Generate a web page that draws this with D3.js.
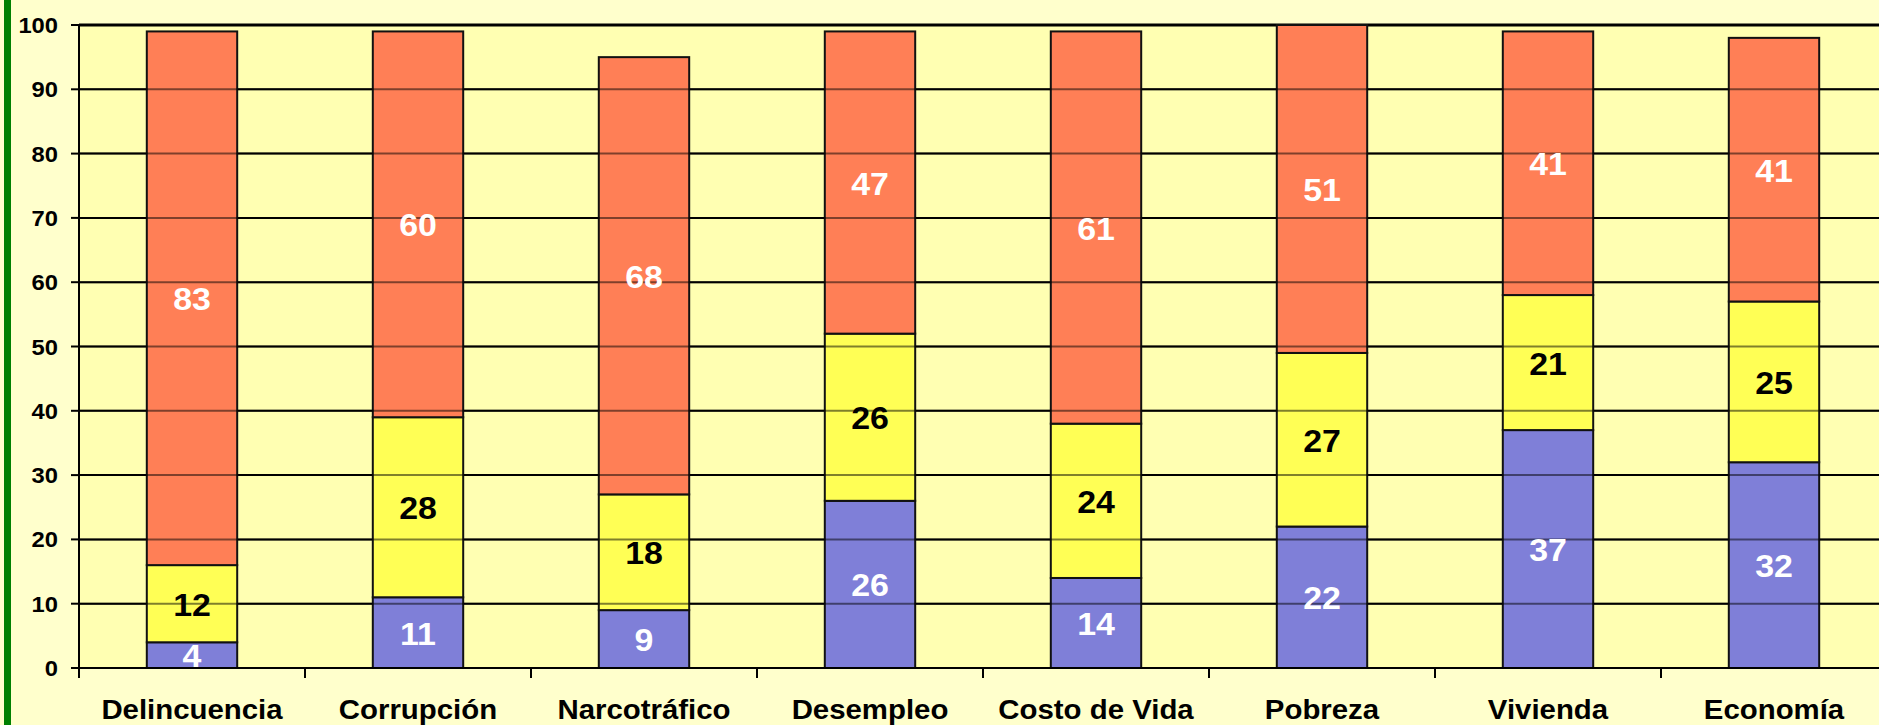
<!DOCTYPE html>
<html>
<head>
<meta charset="utf-8">
<script src="https://cdn.jsdelivr.net/npm/d3@7/dist/d3.min.js"></script>
<style>
  html, body { margin: 0; padding: 0; background: #FFFFCC; }
  svg { display: block; }
  text { font-family: "Liberation Sans", Arial, sans-serif; font-weight: bold; }
</style>
</head>
<body>
<svg id="chart" width="1879" height="725"></svg>
<script>
// Survey categories and the three stacked shares for each
const categories = ["Delincuencia", "Corrupción", "Narcotráfico", "Desempleo", "Costo de Vida", "Pobreza", "Vivienda", "Economía"];
const lowValues  = [4, 11, 9, 26, 14, 22, 37, 32];
const midValues  = [12, 28, 18, 26, 24, 27, 21, 25];
const highValues = [83, 60, 68, 47, 61, 51, 41, 41];
const yTicks = [0, 10, 20, 30, 40, 50, 60, 70, 80, 90, 100];

const seriesFill  = ["#7F7FD8", "#FFFF55", "#FF7F56"];
const labelColour = ["#FFFFFF", "#000000", "#FFFFFF"];

const W = 1879, H = 725;
const plotLeft = 79, plotTop = 25, plotBottom = 668;
const plotRight = plotLeft + 8 * 226;

const svg = d3.select("#chart");

// outer background and green rule on the left
svg.append("rect").attr("width", W).attr("height", H).attr("fill", "#FFFFCC");
svg.append("rect").attr("x", 4).attr("y", 0).attr("width", 7).attr("height", H).attr("fill", "#008000");

const x = d3.scaleBand().domain(categories).range([plotLeft, plotRight]).padding(0);
const y = d3.scaleLinear().domain([0, 100]).range([plotBottom, plotTop]);
const barW = x.bandwidth() * 0.4;

// plot area
svg.append("rect")
  .attr("x", plotLeft).attr("y", plotTop)
  .attr("width", plotRight - plotLeft).attr("height", plotBottom - plotTop)
  .attr("fill", "#FFFFB2");

svg.append("defs").append("clipPath").attr("id", "plotClip")
  .append("rect").attr("x", plotLeft).attr("y", plotTop - 2)
  .attr("width", plotRight - plotLeft).attr("height", plotBottom - plotTop + 2);

// horizontal grid lines behind the bars
const grid = svg.append("g");
grid.selectAll("line").data(yTicks.filter(d => d > 0)).join("line")
  .attr("x1", plotLeft).attr("x2", plotRight)
  .attr("y1", d => y(d)).attr("y2", d => y(d))
  .attr("stroke", "#000").attr("stroke-width", d => d === 100 ? 3 : 2);

// stacked data
const rows = categories.map((c, i) => ({ cat: c, low: lowValues[i], mid: midValues[i], high: highValues[i] }));
const stack = d3.stack().keys(["low", "mid", "high"])(rows);

const bars = svg.append("g");
stack.forEach((layer, k) => {
  bars.selectAll(null).data(layer).join("rect")
    .attr("x", d => x(d.data.cat) + (x.bandwidth() - barW) / 2)
    .attr("y", d => y(d[1]))
    .attr("width", barW)
    .attr("height", d => y(d[0]) - y(d[1]))
    .attr("fill", seriesFill[k])
    .attr("stroke", "#111")
    .attr("stroke-width", 2);
});

// grid lines showing through the bars
svg.append("g").selectAll("line").data(yTicks.filter(d => d > 0 && d < 100)).join("line")
  .attr("x1", plotLeft).attr("x2", plotRight)
  .attr("y1", d => y(d)).attr("y2", d => y(d))
  .attr("stroke", "#000").attr("stroke-opacity", 0.5).attr("stroke-width", 2);

// value labels in each segment
const labels = svg.append("g").attr("clip-path", "url(#plotClip)");
stack.forEach((layer, k) => {
  labels.selectAll(null).data(layer).join("text")
    .attr("transform", d => `translate(${x(d.data.cat) + x.bandwidth() / 2},${y((d[0] + d[1]) / 2) + 12}) scale(1.06,1)`)
    .attr("text-anchor", "middle")
    .attr("font-size", 32)
    .attr("fill", labelColour[k])
    .text(d => d[1] - d[0]);
});

// y axis
const yAxis = svg.append("g");
yAxis.append("line").attr("x1", plotLeft).attr("x2", plotLeft).attr("y1", plotTop).attr("y2", plotBottom)
  .attr("stroke", "#000").attr("stroke-width", 2);
yAxis.selectAll("line.tick").data(yTicks).join("line").attr("class", "tick")
  .attr("x1", plotLeft - 8).attr("x2", plotLeft)
  .attr("y1", d => y(d)).attr("y2", d => y(d))
  .attr("stroke", "#000").attr("stroke-width", 2);
yAxis.selectAll("text").data(yTicks).join("text")
  .attr("transform", d => `translate(58,${y(d) + 8}) scale(1.08,1)`)
  .attr("text-anchor", "end")
  .attr("font-size", 22)
  .attr("fill", "#000")
  .text(d => d);

// x axis
const xAxis = svg.append("g");
xAxis.append("line").attr("x1", plotLeft).attr("x2", plotRight).attr("y1", plotBottom).attr("y2", plotBottom)
  .attr("stroke", "#000").attr("stroke-width", 2);
xAxis.selectAll("line.tick").data(categories).join("line").attr("class", "tick")
  .attr("x1", d => x(d)).attr("x2", d => x(d))
  .attr("y1", plotBottom).attr("y2", plotBottom + 10)
  .attr("stroke", "#000").attr("stroke-width", 2);
xAxis.selectAll("text").data(categories).join("text")
  .attr("transform", d => `translate(${x(d) + x.bandwidth() / 2},719) scale(1.05,1)`)
  .attr("text-anchor", "middle")
  .attr("font-size", 28)
  .attr("fill", "#000")
  .text(d => d);
</script>
</body>
</html>
